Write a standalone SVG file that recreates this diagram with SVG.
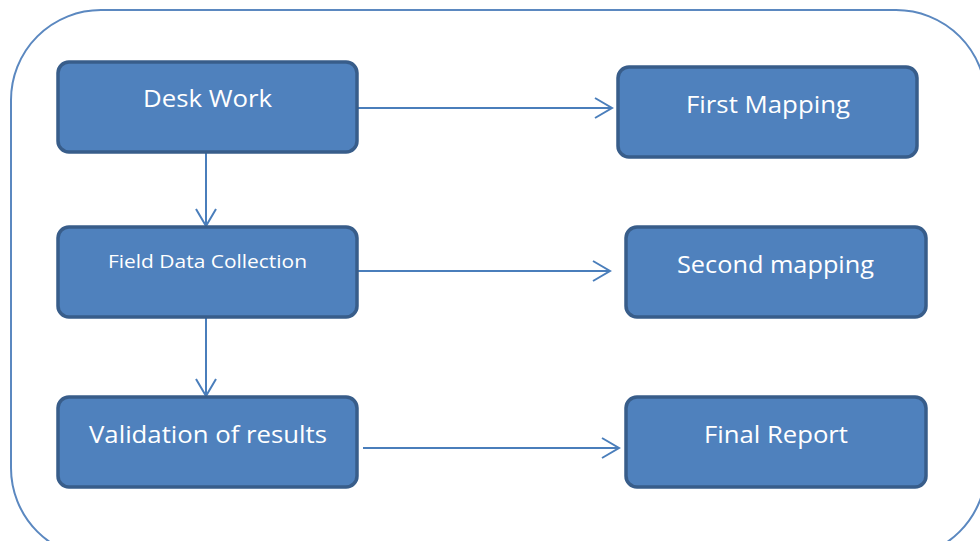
<svg xmlns="http://www.w3.org/2000/svg" width="980" height="541" viewBox="0 0 980 541">
<defs>
<style>
.node rect{fill:#4f81bd;stroke:#385d8a;stroke-width:3.5}
.node text{fill:#ffffff;font-family:"Open Sans","Noto Sans","Liberation Sans",sans-serif;text-anchor:middle}
.big{font-size:24px}
.small{font-size:18px}
.conn line{stroke:#4a7ebb;stroke-width:2;fill:none}
</style>
<marker id="arr" markerWidth="20" markerHeight="24" refX="18" refY="11" orient="auto" markerUnits="userSpaceOnUse">
<path d="M1,1 L18,11 L1,21" fill="none" stroke="#4a7ebb" stroke-width="2"/>
</marker>
</defs>
<rect id="frame" x="11" y="10" width="975" height="548" rx="90" ry="90" fill="#ffffff" stroke="#5b88c0" stroke-width="2"/>
<g id="connectors" class="conn">
<line x1="358" y1="108" x2="612" y2="108" marker-end="url(#arr)"/>
<line x1="358" y1="271" x2="610" y2="271" marker-end="url(#arr)"/>
<line x1="363" y1="448" x2="619" y2="448" marker-end="url(#arr)"/>
<line x1="206" y1="152" x2="206" y2="226" marker-end="url(#arr)"/>
<line x1="206" y1="318" x2="206" y2="396" marker-end="url(#arr)"/>
</g>
<g id="desk-work" class="node">
<rect x="58" y="62" width="299" height="90" rx="11"/>
<text class="big" x="207.5" y="107" textLength="129" lengthAdjust="spacingAndGlyphs">Desk Work</text>
</g>
<g id="first-mapping" class="node">
<rect x="618" y="67" width="299" height="90" rx="11"/>
<text class="big" x="768" y="113" textLength="164" lengthAdjust="spacingAndGlyphs">First Mapping</text>
</g>
<g id="field-data-collection" class="node">
<rect x="58" y="227" width="299" height="90" rx="11"/>
<text class="small" x="207.5" y="268" textLength="199" lengthAdjust="spacingAndGlyphs">Field Data Collection</text>
</g>
<g id="second-mapping" class="node">
<rect x="626" y="227" width="300" height="90" rx="11"/>
<text class="big" x="775.5" y="273" textLength="197" lengthAdjust="spacingAndGlyphs">Second mapping</text>
</g>
<g id="validation-of-results" class="node">
<rect x="58" y="397" width="299" height="90" rx="11"/>
<text class="big" x="208" y="443" textLength="238" lengthAdjust="spacingAndGlyphs">Validation of results</text>
</g>
<g id="final-report" class="node">
<rect x="626" y="397" width="300" height="90" rx="11"/>
<text class="big" x="776" y="443" textLength="144" lengthAdjust="spacingAndGlyphs">Final Report</text>
</g>
</svg>
